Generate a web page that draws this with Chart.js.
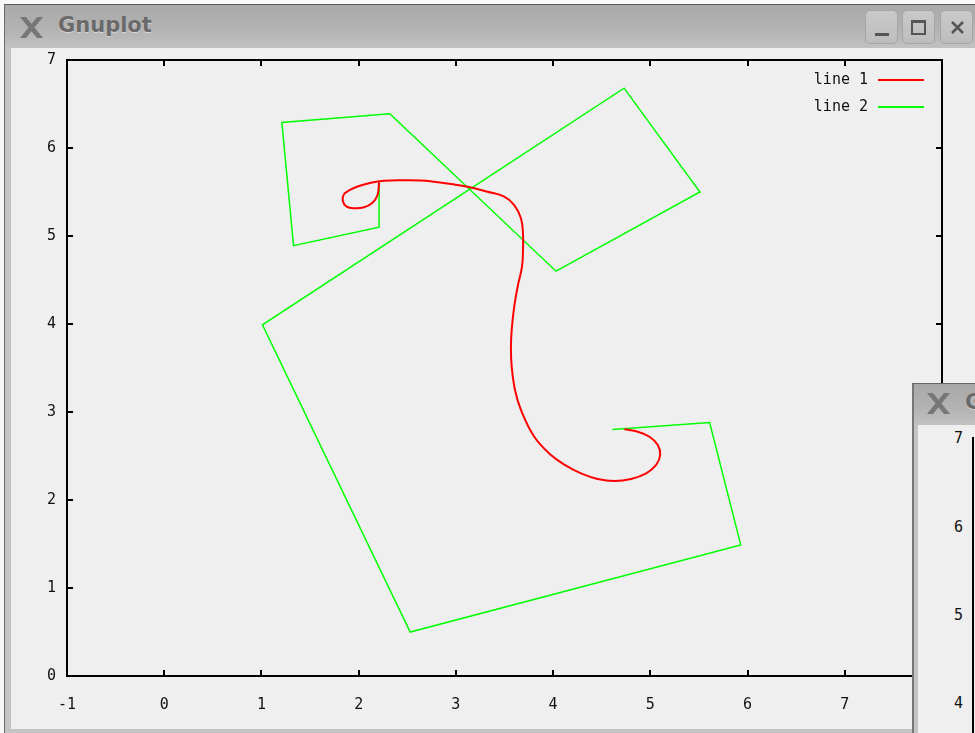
<!DOCTYPE html>
<html>
<head>
<meta charset="utf-8">
<script src="https://cdn.jsdelivr.net/npm/chart.js@4/dist/chart.umd.min.js"></script>
<style>
body{margin:0;width:975px;height:733px;overflow:hidden;background:#f8f8f8;position:relative;font-family:"DejaVu Sans",sans-serif}
.abs{position:absolute}
.frame{left:4px;top:4px;width:990px;height:740px;background:#c4c4c4;border-top:1px solid #5a5a5a;border-left:1px solid #6a6a6a}
.bar{height:43px;background:linear-gradient(to bottom,#a9a9a9,#b3b3b3 60%,#c2c2c2)}
.title{font-weight:bold;font-size:21px;color:#6a6a6a;text-shadow:0 1px 1px #d8d8d8;white-space:nowrap}
.content{background:#efefef}
.btn{width:31px;height:32px;border:1px solid #a6a6a6;border-radius:5px;background:linear-gradient(#c9c9c9,#bdbdbd)}
.lab{font-family:"DejaVu Sans Mono",monospace;font-size:15px;color:#111;text-align:right;width:30px}
</style>
</head>
<body>
<div class="abs frame"></div>
<div class="abs bar" style="left:5px;top:5px;width:975px"></div>
<svg class="abs" style="left:18px;top:16px" width="27" height="23" viewBox="0 0 27 23">
  <path d="M2 1 L8 1 L25 22 L19 22 Z M19 1 L25 1 L8 22 L2 22 Z" fill="#777"/>
</svg>
<div class="abs title" style="left:58px;top:13px">Gnuplot</div>
<div class="abs btn" style="left:865px;top:10px"><div class="abs" style="left:9px;top:22px;width:14px;height:3px;background:#555"></div></div>
<div class="abs btn" style="left:902px;top:10px"><div class="abs" style="left:8px;top:9px;width:11px;height:10px;border:2px solid #555;border-top-width:3px"></div></div>
<div class="abs btn" style="left:940px;top:10px"><svg class="abs" style="left:9px;top:9px" width="15" height="15"><path d="M2 2 L13 13 M13 2 L2 13" stroke="#555" stroke-width="2.5"/></svg></div>
<div class="abs content" style="left:11px;top:48px;width:970px;height:681px"></div>
<canvas id="plot" class="abs" style="left:0;top:0" width="975" height="733"></canvas>

<div class="abs frame" style="left:912px;top:383px;border-left:2px solid #777;border-top:1px solid #666"></div>
<div class="abs bar" style="left:914px;top:384px;width:80px;height:41px"></div>
<svg class="abs" style="left:925px;top:392px" width="27" height="23" viewBox="0 0 27 23">
  <path d="M2 1 L8 1 L25 22 L19 22 Z M19 1 L25 1 L8 22 L2 22 Z" fill="#777"/>
</svg>
<div class="abs title" style="left:965px;top:390px">Gnuplot</div>
<div class="abs content" style="left:918px;top:425px;width:80px;height:320px"></div>
<div class="abs lab" style="left:933px;top:429px">7</div>
<div class="abs lab" style="left:933px;top:518px">6</div>
<div class="abs lab" style="left:933px;top:606px">5</div>
<div class="abs lab" style="left:933px;top:694px">4</div>
<div class="abs" style="left:972px;top:437px;width:2px;height:300px;background:#000"></div>

<script>
// values
var seriesNames = ['line 1', 'line 2'];
var line1X = [2.210, 2.194, 2.142, 2.056, 1.953, 1.877, 1.836, 1.850, 1.911, 2.004, 2.125, 2.262, 2.444, 2.640, 2.777, 2.949, 3.121, 3.326, 3.497, 3.600, 3.669, 3.690, 3.690, 3.680, 3.635, 3.600, 3.574, 3.566, 3.574, 3.608, 3.669, 3.806, 3.978, 4.115, 4.287, 4.459, 4.630, 4.802, 4.957, 5.060, 5.101, 5.077, 4.991, 4.871, 4.733];
var line1Y = [5.606, 5.466, 5.378, 5.326, 5.315, 5.333, 5.401, 5.477, 5.523, 5.568, 5.606, 5.628, 5.633, 5.631, 5.617, 5.591, 5.560, 5.503, 5.447, 5.352, 5.201, 5.031, 4.841, 4.651, 4.424, 4.197, 3.932, 3.727, 3.515, 3.250, 3.023, 2.719, 2.511, 2.403, 2.303, 2.239, 2.216, 2.239, 2.303, 2.398, 2.511, 2.625, 2.719, 2.776, 2.803];
var line2X = [2.21, 2.21, 1.33, 1.21, 2.32, 4.03, 5.51, 4.73, 1.01, 2.53, 5.93, 5.61, 4.61];
var line2Y = [5.62, 5.10, 4.89, 6.29, 6.39, 4.60, 5.50, 6.68, 3.99, 0.50, 1.49, 2.88, 2.80];
var xTicks = ['-1', '0', '1', '2', '3', '4', '5', '6', '7', '8'];
var yTicks = ['0', '1', '2', '3', '4', '5', '6', '7'];

function pts(xs, ys) {
    return xs.map(function (x, i) { return {x: x, y: ys[i]}; });
}

var monoFont = {family: '"DejaVu Sans Mono", monospace', size: 15};

// gnuplot style border, inward ticks and key
var gnuFrame = {
    id: 'gnuFrame',
    afterDatasetsDraw: function (chart) {
        var ctx = chart.ctx, a = chart.chartArea;
        var sx = chart.scales.x, sy = chart.scales.y;
        ctx.save();
        ctx.strokeStyle = '#000';
        ctx.lineWidth = 2;
        ctx.strokeRect(a.left, a.top, a.right - a.left, a.bottom - a.top);
        ctx.beginPath();
        sx.ticks.forEach(function (t) {
            var px = Math.round(sx.getPixelForValue(t.value));
            ctx.moveTo(px, a.bottom); ctx.lineTo(px, a.bottom - 6);
            ctx.moveTo(px, a.top); ctx.lineTo(px, a.top + 6);
        });
        sy.ticks.forEach(function (t) {
            var py = Math.round(sy.getPixelForValue(t.value));
            ctx.moveTo(a.left, py); ctx.lineTo(a.left + 6, py);
            ctx.moveTo(a.right, py); ctx.lineTo(a.right - 6, py);
        });
        ctx.stroke();

        ctx.font = '15px "DejaVu Sans Mono", monospace';
        ctx.textAlign = 'right';
        ctx.textBaseline = 'middle';
        chart.data.datasets.forEach(function (ds, i) {
            var yy = a.top + 20 + i * 27;
            ctx.fillStyle = '#111';
            ctx.fillText(ds.label, a.right - 74, yy);
            ctx.strokeStyle = ds.borderColor;
            ctx.lineWidth = 2;
            ctx.beginPath();
            ctx.moveTo(a.right - 64, yy);
            ctx.lineTo(a.right - 18, yy);
            ctx.stroke();
        });
        ctx.restore();
    }
};

new Chart(document.getElementById('plot'), {
    type: 'scatter',
    data: {
        datasets: [
            {
                label: seriesNames[0],
                data: pts(line1X, line1Y),
                showLine: true,
                borderColor: '#ff0000',
                borderWidth: 2,
                pointRadius: 0,
                tension: 0.4
            },
            {
                label: seriesNames[1],
                data: pts(line2X, line2Y),
                showLine: true,
                borderColor: '#00ff00',
                borderWidth: 1.5,
                pointRadius: 0,
                tension: 0
            }
        ]
    },
    options: {
        responsive: false,
        devicePixelRatio: 1,
        animation: false,
        layout: {padding: {left: 0, top: 60, right: 33, bottom: 0}},
        scales: {
            x: {
                type: 'linear', min: -1, max: 8,
                grid: {display: false, drawTicks: false},
                border: {display: false},
                afterFit: function (s) { s.height = 57; },
                ticks: {
                    stepSize: 1, padding: 20, color: '#111', font: monoFont, maxRotation: 0,
                    callback: function (v) { return xTicks[v + 1]; }
                }
            },
            y: {
                type: 'linear', min: 0, max: 7,
                grid: {display: false, drawTicks: false},
                border: {display: false},
                afterFit: function (s) { s.width = 67; },
                ticks: {
                    stepSize: 1, padding: 11, color: '#111', font: monoFont,
                    callback: function (v) { return yTicks[v]; }
                }
            }
        },
        plugins: {
            legend: {display: false},
            tooltip: {enabled: false}
        }
    },
    plugins: [gnuFrame]
});
</script>
</body>
</html>
